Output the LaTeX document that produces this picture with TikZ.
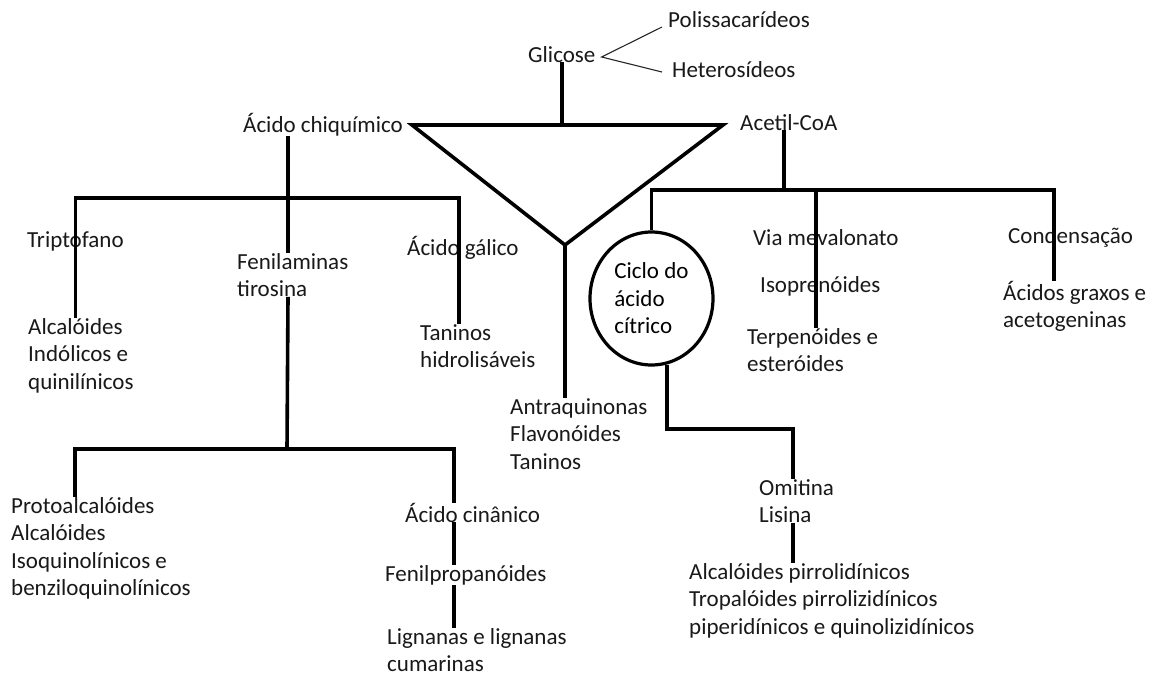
\documentclass[tikz,border=0pt]{standalone}
\usepackage{fontspec}
\setmainfont{Carlito}
\usetikzlibrary{shapes.geometric}

\begin{document}
\begin{tikzpicture}[x=1pt, y=-1pt,
    txt/.style={anchor=base west, inner sep=0pt, align=left, text=black!90},
    bar/.style={line width=3.6pt, black},
    fine/.style={line width=1.1pt, black!85}]
    \fontsize{23}{27.5}\selectfont
    \useasboundingbox[fill=white] (0,0) rectangle (1160,675);

    % Nodes (multi-line texts sit on the baseline of their last line)
    \node (glic) [txt] at (528,62) {Glicose};
    \node (poli) [txt] at (668,27) {Polissacarídeos};
    \node (hete) [txt] at (672,77) {Heterosídeos};
    \node (chiq) [txt] at (243,132) {Ácido chiquímico};
    \node (acet) [txt] at (740,130) {Acetil-CoA};
    \node (trip) [txt] at (27,247) {Triptofano};
    \node (alci) [txt] at (28,389) {Alcalóides\\Indólicos e\\quinilínicos};
    \node (fenam) [txt] at (237,296.5) {Fenilaminas\\tirosina};
    \node (galico) [txt] at (407,255) {Ácido gálico};
    \node (tanh) [txt] at (420,367.5) {Taninos\\hidrolisáveis};
    \node (antr) [txt] at (510,469) {Antraquinonas\\Flavonóides\\Taninos};
    \node (ciclo) [ellipse, draw, line width=3.2pt, inner sep=0pt, align=left,
        minimum width=123, minimum height=133] at (651.5,298.5) {Ciclo do\\ácido\\cítrico};
    \node (viam) [txt] at (753,245) {Via mevalonato};
    \node (isop) [txt] at (760,292) {Isoprenóides};
    \node (terp) [txt] at (747,371.5) {Terpenóides e\\esteróides};
    \node (cond) [txt] at (1008,243) {Condensação};
    \node (acgr) [txt] at (1003,327.5) {Ácidos graxos e\\acetogeninas};
    \node (prot) [txt] at (11,595.5) {Protoalcalóides\\Alcalóides\\Isoquinolínicos e\\benziloquinolínicos};
    \node (cina) [txt] at (405,522) {Ácido cinânico};
    \node (fenp) [txt] at (385,581) {Fenilpropanóides};
    \node (lign) [txt] at (387,671.5) {Lignanas e lignanas\\cumarinas};
    \node (omit) [txt] at (759,522.5) {Omitina\\Lisina};
    \node (alcp) [txt] at (689,634) {Alcalóides pirrolidínicos\\Tropalóides pirrolizidínicos\\piperidínicos e quinolizidínicos};

    % Junctions
    \coordinate (tl) at (412,125);
    \coordinate (tr) at (723,125);
    \coordinate (tp) at (565,245);
    \coordinate (lbar) at (288,198);
    \coordinate (gx) at (459,198);
    \coordinate (rbar) at (784,190);
    \coordinate (vbar) at (816,190);
    \coordinate (cbar) at (1054,190);
    \coordinate (fbar) at (287,449);
    \coordinate (pl) at (75,449);
    \coordinate (pr) at (454,449);
    \coordinate (ox) at (793,429);

    % Glicose
    \draw[bar] (glic.south) -- (glic.south |- tl);
    \draw[bar] (tl) -- (tr) -- (tp) -- cycle;
    \draw[fine] ([xshift=-6pt]poli.base west) -- ([xshift=6pt,yshift=5pt]glic.base east)
        -- ([xshift=-10pt,yshift=5pt]hete.base west);
    \draw[bar] (tp) -- (tp |- antr.north);

    % Acido chiquimico
    \draw[bar] (chiq.south -| lbar) -- (lbar |- fenam.north);
    \draw[bar] (trip.center |- alci.north) -- (trip.center |- lbar) -- (gx) -- (gx |- tanh.north);
    \draw[bar] (lbar |- fenam.south) -- (fbar);
    \draw[bar] (pl |- prot.north) -- (pl) -- (pr) -- (pr |- cina.north);
    \draw[bar] (pr |- cina.south) -- (pr |- fenp.north);
    \draw[bar] (pr |- fenp.south) -- (pr |- lign.north);

    % Acetil-CoA
    \draw[bar] (acet.base -| rbar) -- (rbar);
    \draw[bar] (ciclo.north) -- (ciclo.north |- rbar) -- (cbar) -- (cbar |- acgr.north);
    \draw[bar] (vbar) -- (vbar |- terp.north);
    \draw[bar] (ciclo.-77) |- (ox) -- (ox |- omit.north);
    \draw[bar] (ox |- omit.south) -- (ox |- alcp.north);

\end{tikzpicture}
\end{document}
